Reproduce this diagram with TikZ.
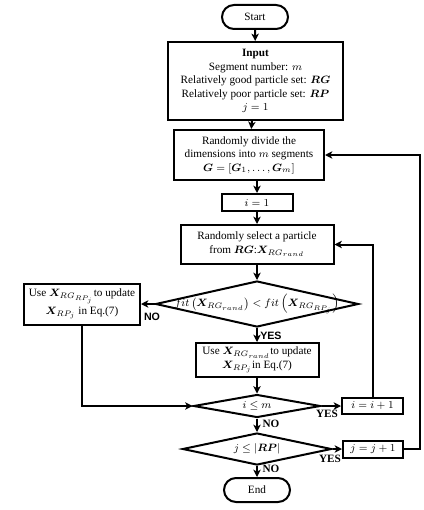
\documentclass[tikz,border=0pt]{standalone}
\usepackage{amsmath,bm}
\usepackage{fontspec}
\setmainfont{Liberation Serif}
\newfontfamily\labsans{Liberation Sans}
\usetikzlibrary{shapes.geometric,arrows.meta}
\begin{document}
\begin{tikzpicture}[x=0.75pt,y=-0.75pt,
  font=\fontsize{8.4}{10.1}\selectfont,
  sz/.style 2 args={minimum width=#1*0.75pt, minimum height=#2*0.75pt},
  box/.style={draw, line width=1.5pt, align=center, inner sep=0pt},
  term/.style={box, rounded corners=9pt},
  dia/.style={draw, line width=1.5pt, diamond, inner sep=0pt},
  lbl/.style={inner sep=0pt},
  arr/.style={line width=1.5pt, -{Stealth[length=5.5pt,width=5.5pt,inset=1.5pt]}},
  ynsans/.style={inner sep=0pt, font=\fontsize{8}{9}\selectfont\labsans\bfseries},
  ynserif/.style={inner sep=0pt, font=\fontsize{8.4}{9}\selectfont\bfseries}]
\useasboundingbox (0,0) rectangle (424,510);

\node[term, sz={66}{24}] (start) at (255,17) {Start};
\node[box, sz={175}{78}] (input) at (255.5,81) {\textbf{Input}\\ Segment number: $m$\\ Relatively good particle set: $\bm{RG}$\\ Relatively poor particle set: $\bm{RP}$\\ $j=1$};
\node[box, sz={150}{50}] (divide) at (249,155) {Randomly divide the\\ dimensions into $m$ segments\\ $\bm{G}=[\bm{G}_1,\dots,\bm{G}_m]$};
\node[box, sz={71}{17}] (i1) at (257,202.5) {$i=1$};
\node[box, sz={153}{39}] (select) at (257,244.5) {Randomly select a particle\\ from $\bm{RG}$:$\bm{X}_{RG_{rand}}$};
\node[dia, sz={203}{46}] (d1) at (257,304) {};
\node[lbl] (d1t) at (d1.center) {$fit\left(\bm{X}_{RG_{rand}}\right) < fit\left(\bm{X}_{RG_{RP_j}}\right)$};
\node[box, sz={116}{41}] (left) at (82,304) {Use $\bm{X}_{RG_{RP_j}}$to update\\[1pt] $\bm{X}_{RP_j}$ in Eq.(7)};
\node[box, sz={123}{34}] (use) at (257,360) {Use $\bm{X}_{RG_{rand}}$to update\\ $\bm{X}_{RP_j}$in Eq.(7)};
\node[dia, sz={127}{23}] (d2) at (257,406) {};
\node[lbl] (d2t) at (d2.center) {$i\le m$};
\node[box, sz={61}{16}] (ip1) at (372.5,406) {$i=i+1$};
\node[dia, sz={149}{32}] (d3) at (257,449) {};
\node[lbl] (d3t) at (d3.center) {$j\le|\bm{RP}|$};
\node[box, sz={60}{17}] (jp1) at (373,449) {$j=j+1$};
\node[term, sz={66}{24}] (end) at (257,490) {End};
\coordinate (jr) at (420,449);

\draw[arr] (start) -- (input);
\draw[arr] (input) -- (divide);
\draw[arr] (divide.south -| i1) -- (i1);
\draw[arr] (i1) -- (select);
\draw[arr] (select) -- (d1);
\draw[arr] (d1) -- (use);
\draw[arr] (d1) -- (left);
\draw[arr] (use) -- (d2);
\draw[arr] (d2) -- (ip1);
\draw[arr] (d2) -- (d3);
\draw[arr] (d3) -- (jp1);
\draw[arr] (d3) -- (end);
\draw[arr] (left.south) |- (d2.west);
\draw[arr] (ip1.north) |- (select.east);
\draw[arr] (jp1.east) -- (jr) |- (divide.east);

\node[ynsans, anchor=west] (yes1) at (260,336) {YES};
\node[ynsans] (no1) at (152,317) {NO};
\node[ynserif] (yes2) at (327,414) {YES};
\node[ynserif] (no2) at (271,424) {NO};
\node[ynserif] (yes3) at (330,459) {YES};
\node[ynserif] (no3) at (271,469) {NO};
\end{tikzpicture}
\end{document}
